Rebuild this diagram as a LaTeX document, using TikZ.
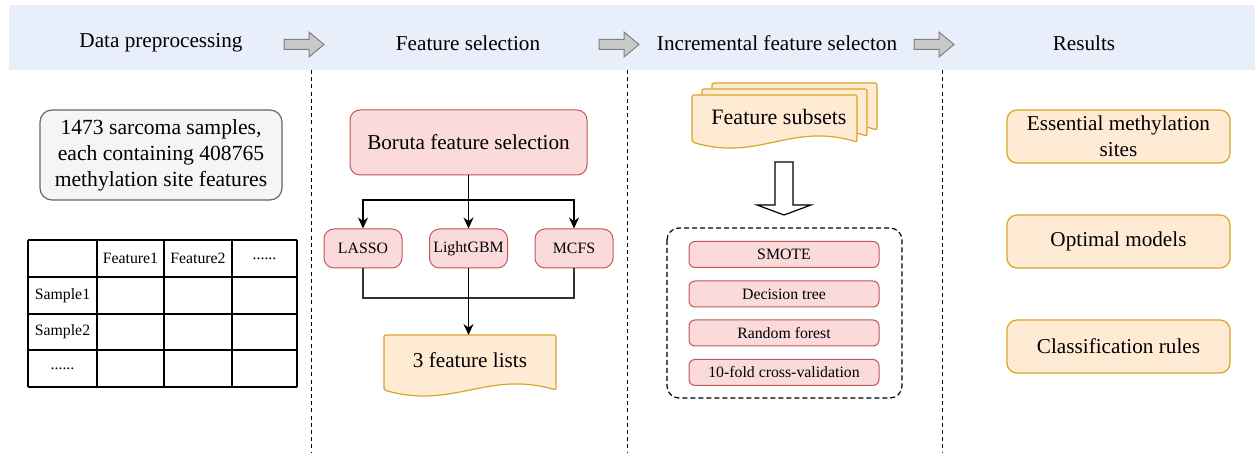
\documentclass[tikz,border=0pt]{standalone}
\usepackage{fontspec}
\setmainfont{Liberation Serif}
\usepackage{tikz}
\usetikzlibrary{arrows.meta,calc}
\definecolor{headblue}{HTML}{E8EFFA}
\definecolor{pinkfill}{HTML}{FADADA}
\definecolor{pinkline}{HTML}{BF5A58}
\definecolor{orfill}{HTML}{FFEBD4}
\definecolor{orline}{HTML}{DBA523}
\definecolor{grayfill}{HTML}{F5F5F5}
\definecolor{grayline}{HTML}{666666}
\definecolor{arrfill}{HTML}{C9C9C9}
\definecolor{arrline}{HTML}{808080}
\tikzset{
  bigfont/.style={font=\fontsize{10.6}{13}\selectfont},
  smallfont/.style={font=\fontsize{7.9}{9.5}\selectfont},
  pinkbox/.style={draw=pinkline,fill=pinkfill,line width=0.5pt,rounded corners=5pt,inner sep=0pt,align=center},
  resbox/.style={draw=orline,fill=orfill,line width=0.6pt,rounded corners=5pt,inner sep=0pt,align=center,
    minimum width=111.5pt,minimum height=26.5pt,bigfont},
  cellfont/.style={font=\fontsize{7.9}{9}\selectfont},
  conn/.style={line width=0.8pt,black},
  connthin/.style={line width=0.55pt,black!80},
  sep/.style={line width=0.5pt,dash pattern=on 2pt off 1.6pt},
}
% block arrow in the header band
\newcommand{\headarrow}[2]{%
  \filldraw[fill=arrfill,draw=arrline,line width=0.5pt]
    (#1-21,#2-5) -- (#1+4,#2-5) -- (#1+4,#2-12.5) -- (#1+19,#2) -- (#1+4,#2+12.5)
    -- (#1+4,#2+5) -- (#1-21,#2+5) -- cycle;
}
% document shape with wavy bottom: x1, ytop, x2, ybase
\newcommand{\wavedoc}[4]{%
  \filldraw[fill=orfill,draw=orline,line width=0.6pt,rounded corners=1pt]
    (#1,#4) -- (#1,#2) -- (#3,#2) -- (#3,#4)
    .. controls ($(#1,#4)!0.6!(#3,#4)+(0,-20)$) and ($(#1,#4)!0.4!(#3,#4)+(0,20)$) .. cycle;
}

\begin{document}
\begin{tikzpicture}[x=0.5pt,y=-0.5pt]
\useasboundingbox (0,0) rectangle (1255,453);
% header
\fill[headblue] (9,5) rectangle (1255,70);
\node[bigfont] (h1) at (161,43) {Data preprocessing};
\node[bigfont] (h2) at (468,43) {Feature selection};
\node[bigfont] (h3) at (777,43) {Incremental feature selecton};
\node[bigfont] (h4) at (1084,43) {Results};
\headarrow{305}{44.5} \headarrow{620}{44.5} \headarrow{935}{44.5}
\foreach \x in {311,627,942}
  \draw[sep] (\x,70) -- (\x,453);

% data preprocessing
\node[draw=grayline,fill=grayfill,line width=0.6pt,rounded corners=6pt,align=center,
  minimum width=121pt,minimum height=45pt,inner sep=0pt,font=\fontsize{10.8}{13}\selectfont]
  (samples) at (161,155) {1473 sarcoma samples,\\each containing 408765\\methylation site features};
\foreach \x in {28,97,164,232,297}
  \draw[line width=0.6pt] (\x,240) -- (\x,387);
\foreach \y in {240,277,314,350,387}
  \draw[line width=0.6pt] (28,\y) -- (297,\y);
\node[cellfont] (feat1) at (130.5,258.5) {Feature1};
\node[cellfont] (feat2) at (198,258.5) {Feature2};
\node[cellfont] (featdots) at (264.5,258.5) {......};
\node[cellfont] (samp1) at (62.5,295.5) {Sample1};
\node[cellfont] (samp2) at (62.5,332) {Sample2};
\node[cellfont] (sampdots) at (62.5,368.5) {......};

% feature selection
\node[pinkbox,bigfont,minimum width=118.5pt,minimum height=32.5pt] (boruta) at (468.5,142.5) {Boruta feature selection};
\node[pinkbox,smallfont,minimum width=39pt,minimum height=19.5pt] (lasso) at (363,248.5) {LASSO};
\node[pinkbox,smallfont,minimum width=39pt,minimum height=19.5pt] (lgbm) at (468.5,248.5) {LightGBM};
\node[pinkbox,smallfont,minimum width=39pt,minimum height=19.5pt] (mcfs) at (574,248.5) {MCFS};
\wavedoc{384}{335}{556}{390}
\node[bigfont] (lists) at (470,360) {3 feature lists};
\coordinate (split) at (468.5,200);
\coordinate (join) at (468.5,298);
\coordinate (liststop) at (468.5,335);
\draw[conn] (boruta.south) -- (split);
\draw[conn,-{Stealth[length=5.5pt,width=5pt]}] (split) -| (lasso.north);
\draw[conn,-{Stealth[length=5.5pt,width=5pt]}] (split) -- (lgbm.north);
\draw[conn,-{Stealth[length=5.5pt,width=5pt]}] (split) -| (mcfs.north);
\draw[connthin] (lasso.south) |- (join) -| (mcfs.south);
\draw[conn,-{Stealth[length=5.5pt,width=5pt]}] (lgbm.south) -- (liststop);

% incremental feature selection
\wavedoc{712}{83}{877}{130}
\wavedoc{702}{89}{867}{136}
\wavedoc{692}{95}{857}{142}
\node[font=\fontsize{11}{13}\selectfont] (subsets) at (779,117) {Feature subsets};
\filldraw[fill=white,draw=black,line width=0.6pt]
  (775,162) -- (793,162) -- (793,205) -- (811,205) -- (784,215) -- (757,205) -- (775,205) -- cycle;
\draw[line width=0.6pt,dash pattern=on 2.5pt off 1.5pt,rounded corners=6pt] (667,228) rectangle (902,398);
\node[pinkbox,smallfont,minimum width=95pt,minimum height=13pt,rounded corners=3pt] (smote) at (784,254.5) {SMOTE};
\node[pinkbox,smallfont,minimum width=95pt,minimum height=13pt,rounded corners=3pt] (dtree) at (784,294) {Decision tree};
\node[pinkbox,smallfont,minimum width=95pt,minimum height=13pt,rounded corners=3pt] (rforest) at (784,333) {Random forest};
\node[pinkbox,smallfont,minimum width=95pt,minimum height=13pt,rounded corners=3pt] (cv) at (784,372.5) {10-fold cross-validation};

% results
\node[resbox] (sites) at (1118.5,136.5) {Essential methylation\\sites};
\node[resbox] (models) at (1118.5,241.5) {Optimal models};
\node[resbox] (rules) at (1118.5,346.5) {Classification rules};
\end{tikzpicture}
\end{document}
